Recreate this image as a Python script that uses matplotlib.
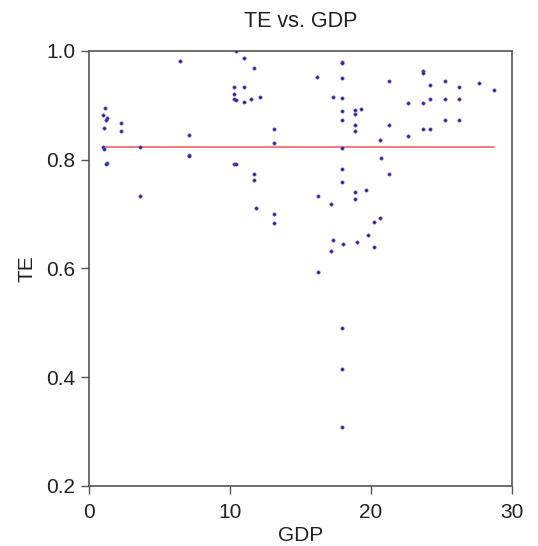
import matplotlib
matplotlib.use("Agg")
import matplotlib.pyplot as plt

plt.rcParams['font.family'] = ['Liberation Sans', 'DejaVu Sans']

gdp = [1.11, 0.97, 1.25, 1.18, 1.04, 0.97, 1.09, 1.25, 1.18,
       2.27, 2.27, 3.62, 3.62, 6.45, 7.09, 7.09, 7.09,
       10.4, 10.99, 11.7, 10.28, 10.99, 10.28, 10.28, 10.4, 10.99, 11.49, 12.1,
       13.1, 13.1, 10.28, 10.4, 11.7, 11.7, 11.84, 13.1, 13.1,
       16.2, 16.22, 16.22, 17.16, 17.16, 17.28, 17.33,
       17.94, 17.94, 17.94, 17.94, 17.94, 17.94, 17.94, 17.94, 17.94, 17.94, 17.94, 17.94, 18.04,
       18.89, 18.89, 18.89, 18.89, 18.89, 18.89, 19.03, 19.27, 19.62, 19.76, 20.23, 20.23,
       20.66, 20.64, 20.73, 21.3, 21.3, 21.3,
       22.65, 22.65, 23.71, 23.71, 23.71, 23.71, 24.18, 24.18, 24.18,
       25.27, 25.27, 25.27, 26.26, 26.26, 26.26, 27.63, 28.72]
te = [0.896, 0.882, 0.877, 0.874, 0.858, 0.823, 0.819, 0.794, 0.792,
      0.868, 0.853, 0.823, 0.733, 0.982, 0.846, 0.808, 0.806,
      1.0, 0.987, 0.969, 0.933, 0.933, 0.921, 0.912, 0.909, 0.907, 0.912, 0.916,
      0.857, 0.830, 0.793, 0.792, 0.773, 0.762, 0.711, 0.700, 0.684,
      0.953, 0.733, 0.594, 0.718, 0.633, 0.652, 0.915,
      0.980, 0.978, 0.950, 0.914, 0.889, 0.873, 0.822, 0.783, 0.759, 0.491, 0.415, 0.309, 0.645,
      0.891, 0.885, 0.863, 0.853, 0.741, 0.728, 0.648, 0.893, 0.744, 0.661, 0.686, 0.640,
      0.692, 0.836, 0.803, 0.945, 0.863, 0.773,
      0.904, 0.843, 0.963, 0.959, 0.904, 0.857, 0.937, 0.912, 0.857,
      0.945, 0.912, 0.873, 0.934, 0.912, 0.873, 0.942, 0.928]
mean_te = 0.824

xticks = [0, 10, 20, 30]
yticks = [0.2, 0.4, 0.6, 0.8, 1.0]

fig = plt.figure(figsize=(5.38, 5.46), dpi=100)
ax = fig.add_axes([0.1654, 0.1099, 0.7863, 0.7967])

ax.scatter(gdp, te, s=6, c='#23239a', edgecolors='#6a6ad8', linewidths=0.4, zorder=3)
ax.plot([min(gdp), max(gdp)], [mean_te, mean_te], color='#f26262', lw=1.2, zorder=2)

ax.set_xlim(0, 30)
ax.set_ylim(0.2, 1.0)
ax.set_xticks(xticks)
ax.set_yticks(yticks)
ax.set_xticklabels([str(v) for v in xticks])
ax.set_yticklabels([f"{v:.1f}" for v in yticks])

for sp in ax.spines.values():
    sp.set_color('#555555')
    sp.set_linewidth(1.2)

ax.tick_params(direction='out', length=6, width=1.0, color='#555555',
               labelsize=15, labelcolor='#222222')
ax.tick_params(axis='x', pad=6)
ax.tick_params(axis='y', pad=4)

ax.set_title('TE vs. GDP', fontsize=15.5, color='#222222', pad=17)
ax.set_xlabel('GDP', fontsize=15, color='#222222', labelpad=3)
ax.set_ylabel('TE', fontsize=15, color='#222222', labelpad=7)

fig.savefig('out.png', dpi=100, facecolor='white')
